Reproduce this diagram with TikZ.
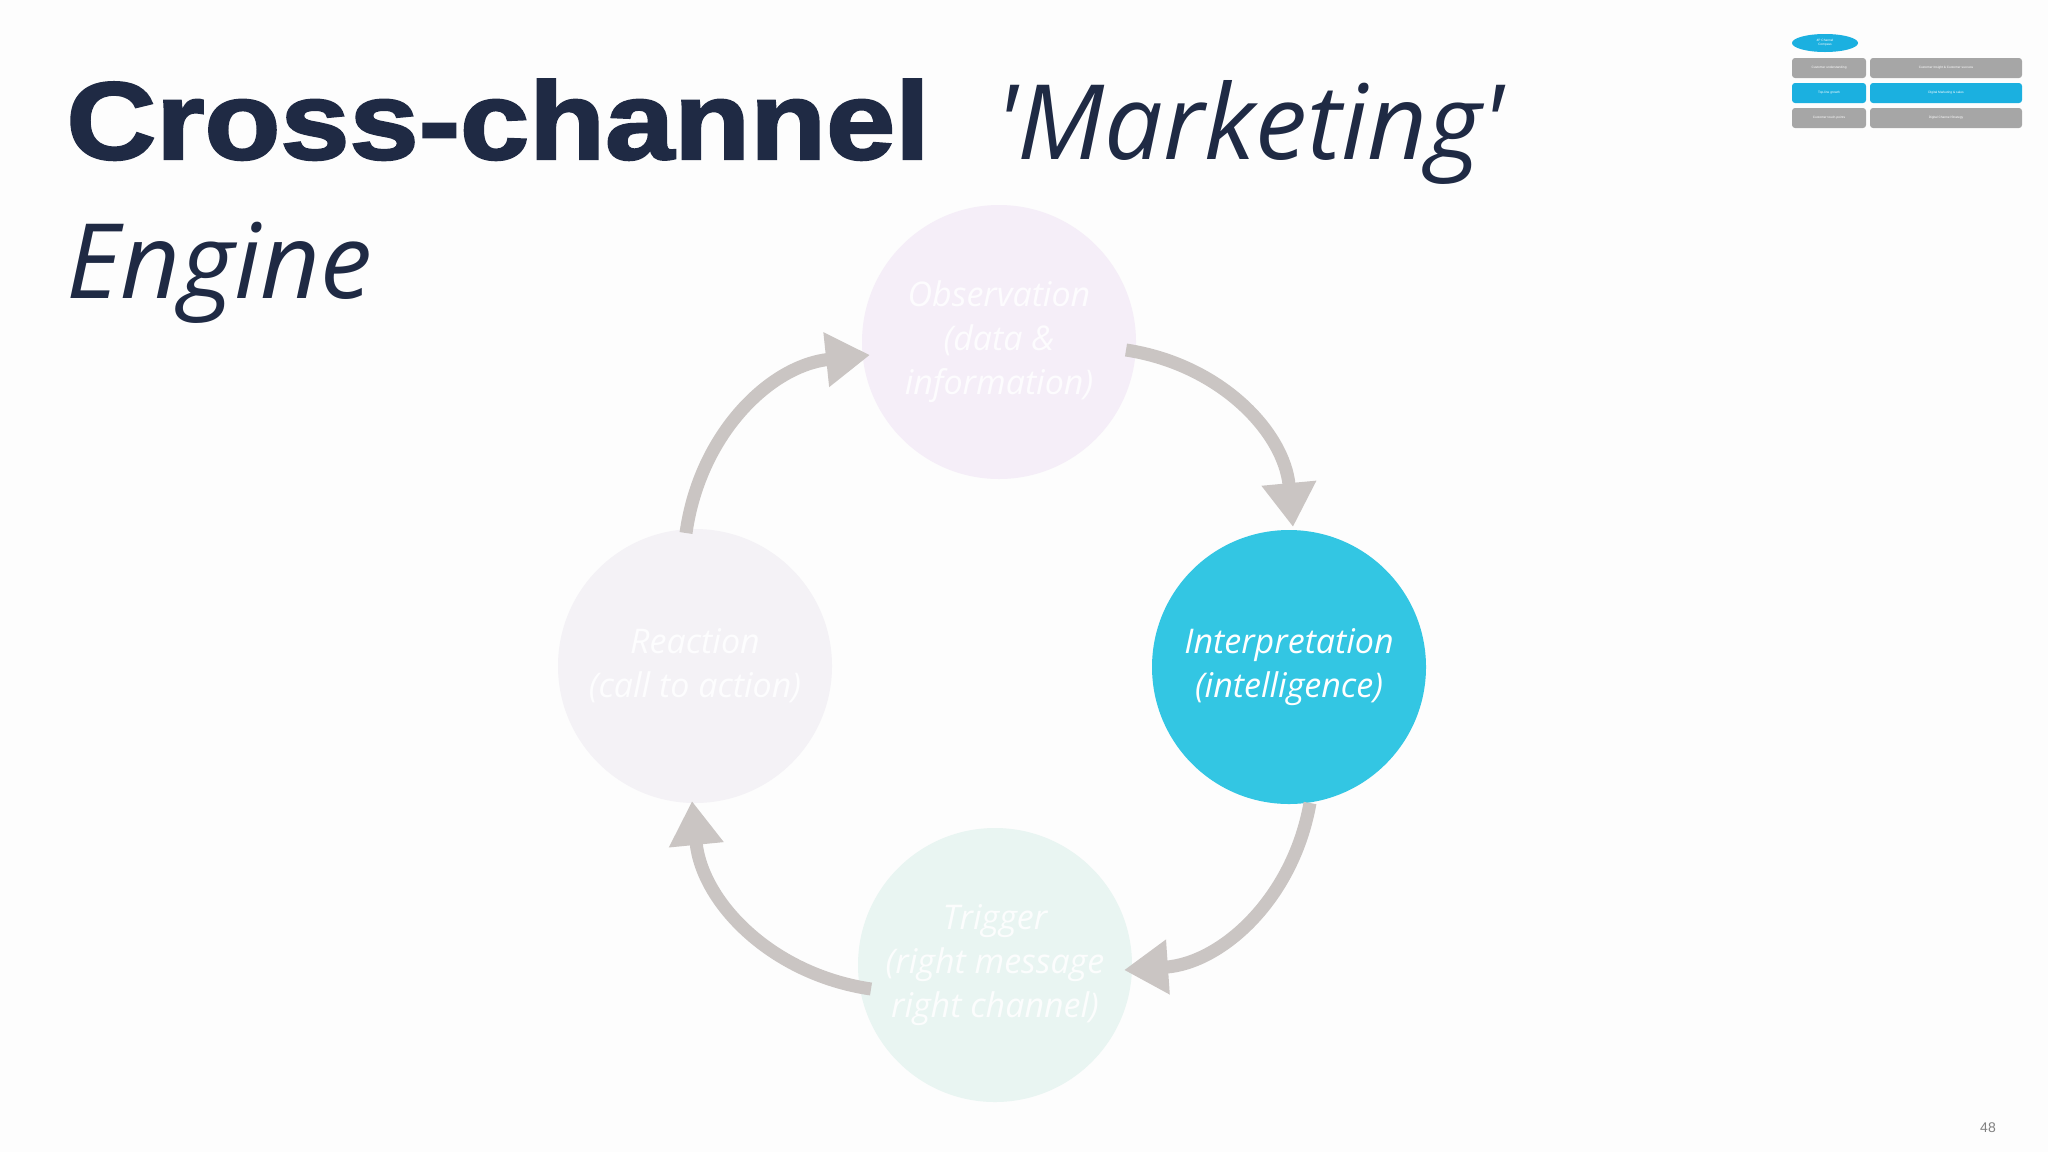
\documentclass[tikz,border=0pt]{standalone}
\usepackage{fontspec}
\setmainfont{Liberation Sans}
\newfontfamily\heavy{Liberation Sans}[FakeBold=2.2,FakeStretch=1.13]
\newfontfamily\lit{Open Sans}
\usetikzlibrary{arrows.meta,shapes.geometric}
\definecolor{bg}{HTML}{FDFDFD}
\definecolor{navy}{HTML}{1F2A44}
\definecolor{arr}{HTML}{CAC5C3}
\definecolor{cyanc}{HTML}{33C6E3}
\definecolor{obs}{HTML}{F5EEF8}
\definecolor{rea}{HTML}{F4F2F6}
\definecolor{trg}{HTML}{E9F5F2}
\definecolor{mgray}{HTML}{A6A6A6}
\definecolor{mblue}{HTML}{1BB0E0}
\tikzset{
 cyc/.style={circle,minimum size=137pt,inner sep=0pt,align=center,font=\lit\itshape\fontsize{17}{22}\selectfont},
 carrow/.style={draw=arr,line width=6.5pt,-{Triangle[length=22pt,width=26pt]}},
 mini/.style={rounded corners=1.5pt,inner sep=0pt,font=\fontsize{1.6}{2}\selectfont,text=white},
}
\begin{document}
\begin{tikzpicture}[x=0.5pt,y=-0.5pt]
\useasboundingbox (0,0) rectangle (2048,1152);
\fill[bg] (0,0) rectangle (2048,1152);
\node[anchor=base west,inner sep=0,text=navy,font=\heavy\bfseries\fontsize{55}{60}\selectfont] (t1) at (66,159) {Cross-channel};
\node[anchor=base west,inner sep=0,text=navy,font=\lit\itshape\fontsize{52}{60}\selectfont] (t2) at (995,159) {'Marketing'};
\node[anchor=base west,inner sep=0,text=navy,font=\lit\itshape\fontsize{52}{60}\selectfont] (t3) at (66,298) {Engine};
\node[cyc,fill=obs,text=white!85!obs] (o) at (999,342) {\raisebox{6pt}{}Observation\\(data \&\\information)};
\node[cyc,fill=cyanc,text=white] (i) at (1289,667) {Interpretation\\(intelligence)};
\node[cyc,fill=trg,text=white!85!trg] (tr) at (995,965) {Trigger\\(right message\\right channel)};
\node[cyc,fill=rea,text=white!85!rea] (r) at (695,666) {Reaction\\(call to action)};
\coordinate (a1s) at (1126,350); \coordinate (a1e) at (1293,527);
\coordinate (a2s) at (1310,803); \coordinate (a2e) at (1124,970);
\coordinate (a3s) at (871,989);  \coordinate (a3e) at (692,801);
\coordinate (a4s) at (686,533);  \coordinate (a4e) at (870,355);
\draw[carrow] (a1s) to[bend left=38] (a1e);
\draw[carrow] (a2s) to[bend left=38] (a2e);
\draw[carrow] (a3s) to[bend left=38] (a3e);
\draw[carrow] (a4s) to[bend left=38] (a4e);
\node[ellipse,fill=mblue,minimum width=33pt,minimum height=9pt,inner sep=0,font=\fontsize{1.6}{2}\selectfont,text=white,align=center] (m0) at (1825,43) {4P Channel\\Compass};
\node[mini,fill=mgray,minimum width=37pt,minimum height=10pt] (m1) at (1829,68) {Customer understanding};
\node[mini,fill=mgray,minimum width=76pt,minimum height=10pt] (m2) at (1946,68) {Customer Insight \& Customer success};
\node[mini,fill=mblue,minimum width=37pt,minimum height=10pt] (m3) at (1829,93) {Top-line growth};
\node[mini,fill=mblue,minimum width=76pt,minimum height=10pt] (m4) at (1946,93) {Digital Marketing \& sales};
\node[mini,fill=mgray,minimum width=37pt,minimum height=10pt] (m5) at (1829,118) {Customer touch-points};
\node[mini,fill=mgray,minimum width=76pt,minimum height=10pt] (m6) at (1946,118) {Digital Channel Strategy};
\node[text=gray,font=\fontsize{7}{8}\selectfont] (pg) at (1988,1128) {48};
\end{tikzpicture}
\end{document}
